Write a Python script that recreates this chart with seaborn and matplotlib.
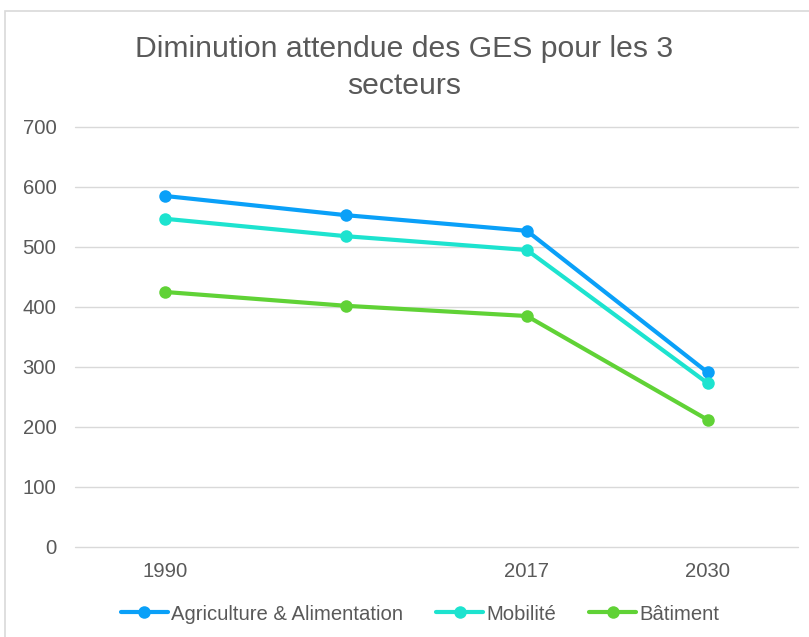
import pandas as pd
import matplotlib
matplotlib.use("Agg")
import matplotlib.pyplot as plt
from matplotlib.patches import Rectangle
import seaborn as sns

# données
annees = ["1990", "", "2017", "2030"]
agriculture = [585, 553, 527, 291]
mobilite = [547, 518, 495, 273]
batiment = [425, 402, 385, 212]
secteurs = ["Agriculture & Alimentation", "Mobilité", "Bâtiment"]
couleurs = {"Agriculture & Alimentation": "#0AA0F8",
            "Mobilité": "#1DE3CF",
            "Bâtiment": "#60D236"}

rows = []
for nom, vals in zip(secteurs, [agriculture, mobilite, batiment]):
    for i, v in enumerate(vals):
        rows.append({"pos": i, "secteur": nom, "ges": v})
df = pd.DataFrame(rows)

sns.set_theme(style="white")
plt.rcParams['font.family'] = ['Liberation Sans', 'DejaVu Sans']

fig = plt.figure(figsize=(8.09, 6.37), dpi=100)
ax = fig.add_axes([75/809, 1 - 547/637, (798 - 75)/809, 420/637])

sns.lineplot(data=df, x="pos", y="ges", hue="secteur", hue_order=secteurs,
             palette=couleurs, marker="o", markersize=9, markeredgewidth=0,
             linewidth=3.0, ax=ax, legend=False, zorder=3)

ax.set_xlim(-0.5, len(annees) - 0.5)
ax.set_ylim(0, 700)
ax.set_xticks(range(len(annees)))
ax.set_xticklabels(annees)
ax.set_yticks(range(0, 701, 100))
ax.tick_params(axis="both", length=0, labelsize=14.6, colors="#595959")
ax.tick_params(axis="x", pad=11)
ax.tick_params(axis="y", pad=13.5)
ax.yaxis.grid(True, color="#D9D9D9", linewidth=1)
for gl in ax.yaxis.get_gridlines():
    gl.set_clip_on(False)
ax.set_axisbelow(True)
for s in ax.spines.values():
    s.set_visible(False)
ax.set_xlabel("")
ax.set_ylabel("")

fig.text(404/809, 1 - 67.5/637, "Diminution attendue des GES pour les 3\nsecteurs",
         ha="center", va="center", fontsize=21.7, color="#595959", linespacing=1.42)

handles = [plt.Line2D([], [], color=couleurs[n], marker="o", markersize=9,
                      markeredgewidth=0, linewidth=3.0) for n in secteurs]
fig.legend(handles, secteurs, loc="center", bbox_to_anchor=(420/809, 1 - 614/637),
           ncol=3, frameon=False, fontsize=14.6, handlelength=2.3,
           handletextpad=0.15, columnspacing=1.65, labelcolor="#595959",
           borderpad=0, borderaxespad=0)

fig.patches.append(Rectangle((5/809, -0.1), 1.2, 1 - 11/637 + 0.1,
                             transform=fig.transFigure, fill=False,
                             edgecolor="#D9D9D9", linewidth=1.2))

fig.savefig("out.png", dpi=100)
